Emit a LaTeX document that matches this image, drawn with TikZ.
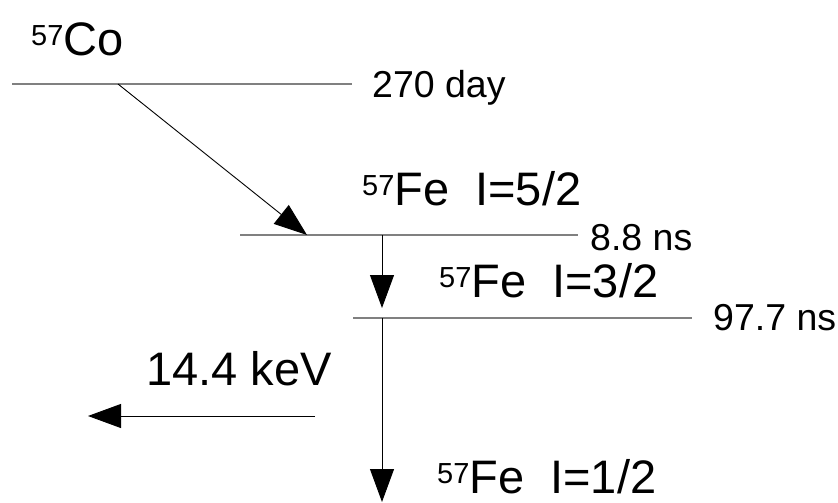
\documentclass[tikz,border=0pt]{standalone}
\usepackage{fontspec}
\setmainfont{Liberation Sans}
\usepackage{tikz}
\usetikzlibrary{arrows.meta,positioning}
\usepackage{xcolor}
\definecolor{levelgray}{RGB}{128,128,128}
\newcommand{\iso}[2]{\raisebox{10pt}{\fontsize{29}{29}\selectfont #1}#2}

\begin{document}
\begin{tikzpicture}[x=1pt,y=-1pt,>={Triangle[length=33pt,width=24pt]}]
\tikzstyle{level}=[draw=levelgray,line width=1.3pt]
\tikzstyle{decay}=[draw=black,line width=0.9pt,->]
\tikzstyle{state}=[inner sep=0pt,anchor=base west,font=\fontsize{47}{47}\selectfont]
\tikzstyle{life}=[inner sep=0pt,anchor=base west,font=\fontsize{37.5}{37.5}\selectfont]
\useasboundingbox (0,0) rectangle (838,503);
% energy levels
\coordinate (co-l) at (12,84);   \coordinate (co-r) at (352,84);
\coordinate (fe5-l) at (240,235); \coordinate (fe5-r) at (578,235);
\coordinate (fe3-l) at (353,318); \coordinate (fe3-r) at (692,318);
\draw[level] (co-l) -- (co-r);
\draw[level] (fe5-l) -- (fe5-r);
\draw[level] (fe3-l) -- (fe3-r);
% labels
\node[state] (co) at (31,56) {\iso{57}{Co}};
\node[life] (co-t) at (372,97) {270 day};
\node[state] (fe5) at (362,205) {\iso{57}{Fe}~~I=5/2};
\node[life] (fe5-t) at (590,250) {8.8 ns};
\node[state] (fe3) at (439,297) {\iso{57}{Fe}~~I=3/2};
\node[life] (fe3-t) at (713,330) {97.7 ns};
\node[state] (fe1) at (437,493) {\iso{57}{Fe}~~I=1/2};
\node[state] (gamma) at (146,385) {14.4 keV};
% transitions
\coordinate (ec) at (118,84);   \coordinate (ec-end) at (307,235);
\coordinate (t1) at (382,235);  \coordinate (t1-end) at (382,308);
\coordinate (t2) at (382,318);  \coordinate (t2-end) at (382,502);
\coordinate (g) at (315,416);   \coordinate (g-end) at (88,416);
\draw[decay] (ec) -- (ec-end);
\draw[decay] (t1) -- (t1-end);
\draw[decay] (t2) -- (t2-end);
\draw[decay] (g) -- (g-end);
\end{tikzpicture}
\end{document}
